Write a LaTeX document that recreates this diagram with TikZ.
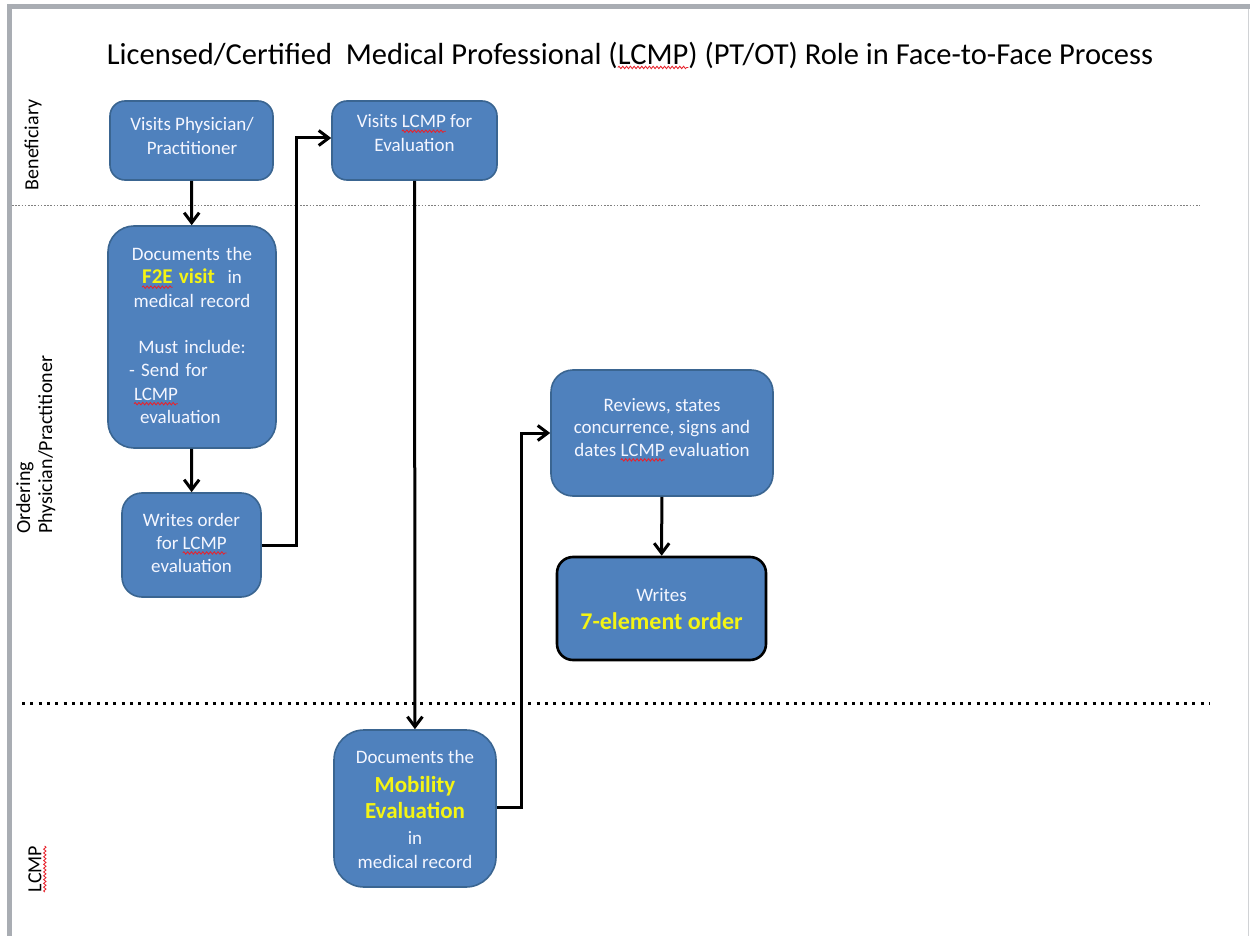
\documentclass[tikz,border=0pt]{standalone}
\usepackage{fontspec}
\setmainfont{Carlito}
\usetikzlibrary{arrows.meta,decorations.pathmorphing}

\definecolor{boxfill}{HTML}{4F81BD}
\definecolor{boxedge}{HTML}{3A6591}
\definecolor{boxtext}{HTML}{F4F6FF}
\definecolor{hilite}{HTML}{F4F414}
\definecolor{framegray}{HTML}{A9ADB3}
\definecolor{squigred}{HTML}{E8222C}

% a word with a red wavy underline
\newsavebox\spellbox
\newcommand\spellmark[1]{\sbox\spellbox{#1}%
  \rlap{\tikz[overlay,baseline=0pt]{\path[draw=squigred,fill=none,sharp corners,
      line width=0.85pt,decorate,decoration={snake,amplitude=1.2pt,segment length=3.8pt}]
      (0pt,-3.4pt) -- (\wd\spellbox,-3.4pt);}}\usebox\spellbox}

% yellow highlighted bold words
\newcommand\hl[2][21]{{\fontsize{#1}{#1}\selectfont\bfseries\color{hilite}#2}}
% a centred line inside a fixed-width node
\newcommand\cl[1]{\makebox[\linewidth]{#1}}

\tikzset{
  box/.style={draw=boxedge, line width=1.6pt, fill=boxfill, inner sep=0pt},
  boxtxt/.style={text=boxtext, align=center, inner sep=0pt,
    font=\fontsize{19}{23.3}\selectfont},
  conn/.style={draw=black, line width=3pt,
    -{Straight Barb[length=10pt,width=15pt]}},
  lane/.style={font=\fontsize{20}{22}\selectfont, inner sep=0pt, rotate=90},
}

\begin{document}
\begin{tikzpicture}[x=1pt,y=-1pt]
\useasboundingbox (0,0) rectangle (1250,936);
\fill[white] (0,0) rectangle (1250,936);

% page frame
\fill[framegray] (7,4) rectangle (1250,9);
\fill[framegray] (7,4) rectangle (12,936);
\draw[framegray!55, line width=1.2pt] (1248.5,9) -- (1248.5,936);

% title
\node (title) at (630,55) {\fontsize{30.5}{34}\selectfont
  Licensed/Certified\ \ Medical Professional (\spellmark{LCMP}) (PT/OT) Role in Face-to-Face Process};

% lane separators
\draw[gray, line width=1.1pt, dash pattern=on 1.6pt off 1.6pt] (12,205.5) -- (1200,205.5);
\draw[black, line width=3pt, dash pattern=on 3pt off 5.3pt] (22,703) -- (1210,703);

% lane labels
\node[lane] (lben) at (33,145) {Beneficiary};
\node[lane, align=left, anchor=north west] (lord) at (16,534) {Ordering\\Physician/Practitioner};
\node[lane] (llcmp) at (35,869) {\spellmark{LCMP}};

% process boxes
\node[box, rounded corners=15pt, minimum width=163pt, minimum height=79pt] (b1) at (191.5,140.5) {};
\node[box, rounded corners=26pt, minimum width=168pt, minimum height=222pt] (b2) at (192,337) {};
\node[box, rounded corners=20pt, minimum width=139pt, minimum height=104pt] (b3) at (191.5,545) {};
\node[box, rounded corners=15pt, minimum width=165pt, minimum height=79pt] (b4) at (414.5,140.5) {};
\node[box, rounded corners=22pt, minimum width=222pt, minimum height=126pt] (b5) at (662,433) {};
\node[box, draw=black, line width=2.6pt, rounded corners=16pt,
      minimum width=209pt, minimum height=103pt] (b6) at (661.5,608.5) {};
\node[box, rounded corners=30pt, minimum width=162pt, minimum height=157pt] (b7) at (415,808.5) {};

% box texts
\node[boxtxt] (t1) at (192,136) {Visits Physician/\\Practitioner};
\node[boxtxt, text width=136pt, align=left] (t2) at (192,335.5)
  {\cl{Documents the}\\
   \cl{\hl{\spellmark{F2E} visit}\ \ in}\\
   \cl{medical record}\\[23.3pt]
   \cl{Must include:}\\
   \hspace*{5pt}- Send for\\
   \hspace*{10pt}\spellmark{LCMP}\\
   \hspace*{16pt}evaluation};
\node[boxtxt, font=\fontsize{19}{23}\selectfont] (t3) at (191.5,543) {Writes order\\for \spellmark{LCMP}\\evaluation};
\node[boxtxt] (t4) at (414.5,133) {Visits \spellmark{LCMP} for\\Evaluation};
\node[boxtxt, font=\fontsize{19}{22.5}\selectfont] (t5) at (662,427.5)
  {Reviews, states\\concurrence, signs and\\dates \spellmark{LCMP} evaluation};
\node[boxtxt] (t6) at (661.5,609) {Writes\\[4pt]\hl[24]{7-element order}};
\node[boxtxt] (t7) at (415,809.5)
  {Documents the\\[5pt]\hl[23]{Mobility}\\[3pt]\hl[23]{Evaluation}\\[3pt]in\\medical record};

% connectors
\draw[conn] (b1) -- (b2);
\draw[conn] (b2) -- (b3);
\draw[conn] (b3.east) -| ([xshift=-35pt,yshift=2.5pt]b4.west) -- ([yshift=2.5pt]b4.west);
\draw[conn] (b4) -- (b7);
\draw[conn] ([yshift=1.5pt]b7.east) -| ([xshift=-29pt]b5.west) -- (b5.west);
\draw[conn] (b5) -- (b6);
\end{tikzpicture}
\end{document}
